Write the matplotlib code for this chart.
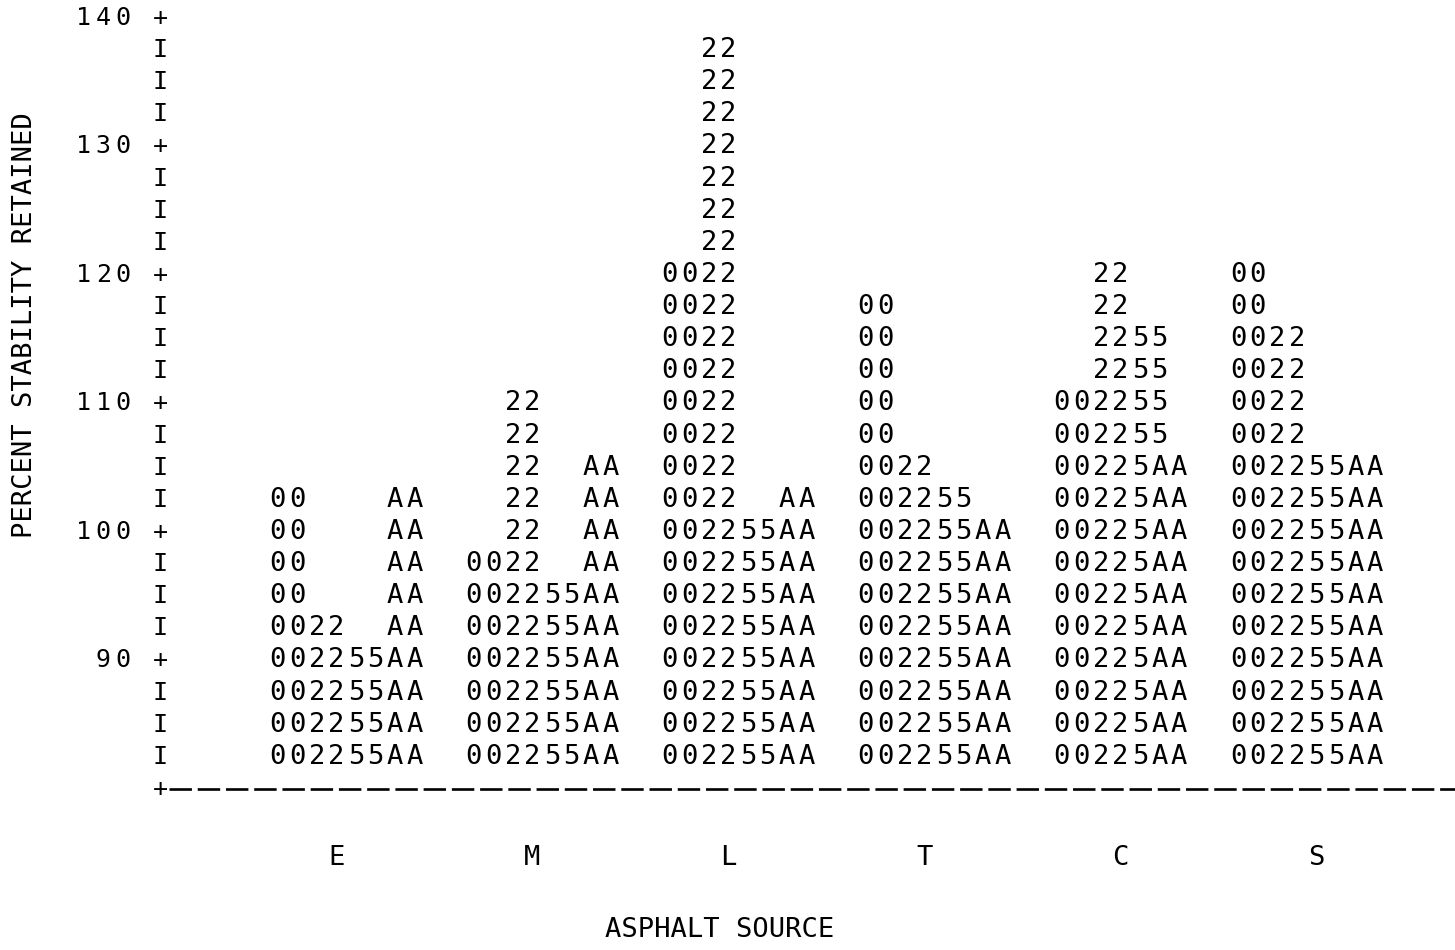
import matplotlib
matplotlib.use("Agg")
import matplotlib.pyplot as plt

# ---------------- data ----------------
categories = ["E", "M", "L", "T", "C", "S"]
symbols = ["00", "22", "55", "AA"]
v00 = [102.5, 97.5, 120.0, 117.5, 110.0, 120.0]
v22 = [92.5, 110.0, 137.5, 105.0, 120.0, 115.0]
v55 = [90.0, 95.0, 100.0, 102.5, 115.0, 105.0]
vAA = [102.5, 105.0, 102.5, 100.0, 105.0, 105.0]
series = [v00, v22, v55, vAA]
y_ticks = [90, 100, 110, 120, 130, 140]
y_step = 2.5
y_base = 80.0
y_top = 140.0
ylabel = "PERCENT STABILITY RETAINED"
xlabel = "ASPHALT SOURCE"

# ---------------- layout (character columns) ----------------
group_start = [6, 16, 26, 36, 46, 55]          # first print column of each group
sub_offset = [[0, 2, 4, 6]] * 4 + [[0, 2, 4, 5]] + [[0, 2, 4, 6]]
label_col = [9, 19, 29, 39, 49, 59]

W, H = 1455, 950
PITCH = 19.6        # px per column
COL0 = 160.0        # px of axis column
Y140 = 18.0         # px of 140
PXU = 12.85         # px per value unit

fig = plt.figure(figsize=(W / 100, H / 100), dpi=100)
ax = fig.add_axes([0, 0, 1, 1])
ax.set_xlim(-COL0 / PITCH, (W - COL0) / PITCH)
ax.set_ylim(y_top - (H - Y140) / PXU, y_top + Y140 / PXU)
ax.axis("off")

FONT = "DejaVu Sans Mono"
FS = 19.5

# character grid for bars
grid = {}
for si, vals in enumerate(series):
    sym = symbols[si]
    for gi, v in enumerate(vals):
        n = int(round((v - y_base) / y_step))
        for r in range(1, n + 1):
            yv = y_base + r * y_step
            for k, ch in enumerate(sym):
                grid[(round(yv, 2), group_start[gi] + sub_offset[gi][si] + k)] = ch

for (yv, col), ch in grid.items():
    ax.text(col, yv, ch, ha="center", va="center", family=FONT, fontsize=FS, color="black")

# vertical axis
nrows = int(round((y_top - y_base) / y_step))
for r in range(1, nrows + 1):
    yv = y_base + r * y_step
    is_tick = any(abs(yv - t) < 1e-6 for t in y_ticks)
    ax.text(0, yv, "+" if is_tick else "I", ha="center", va="center",
            family=FONT, fontsize=18, color="black")
    if is_tick:
        s = str(int(yv))
        for k, ch in enumerate(s):
            ax.text(-1 - len(s) + k + 0.1, yv, ch, ha="center", va="center",
                    family=FONT, fontsize=18, color="black")

# horizontal axis
ax.text(0, y_base, "+", ha="center", va="center", family=FONT, fontsize=18, color="black")
ax.plot([0.45, (W - COL0) / PITCH + 1], [y_base, y_base], color="black",
        lw=1.9, dashes=(8.5, 2.2), solid_capstyle="butt")

LFS = 19.5
# category labels
cat_y = y_top - (858 - Y140) / PXU
for gi, c in enumerate(categories):
    ax.text(label_col[gi], cat_y, c, ha="center", va="center",
            family=FONT, fontsize=LFS, color="black")

# x label
xc = (720 - COL0) / PITCH
xy = y_top - (930 - Y140) / PXU
ax.text(xc, xy, xlabel, ha="center", va="center", family=FONT, fontsize=LFS, color="black")

# y label
yc = y_top - (325 - Y140) / PXU
yx = (25 - COL0) / PITCH
ax.text(yx, yc, ylabel, ha="center", va="center", rotation=90,
        family=FONT, fontsize=LFS, color="black")

fig.savefig("out.png", dpi=100, facecolor="white")
